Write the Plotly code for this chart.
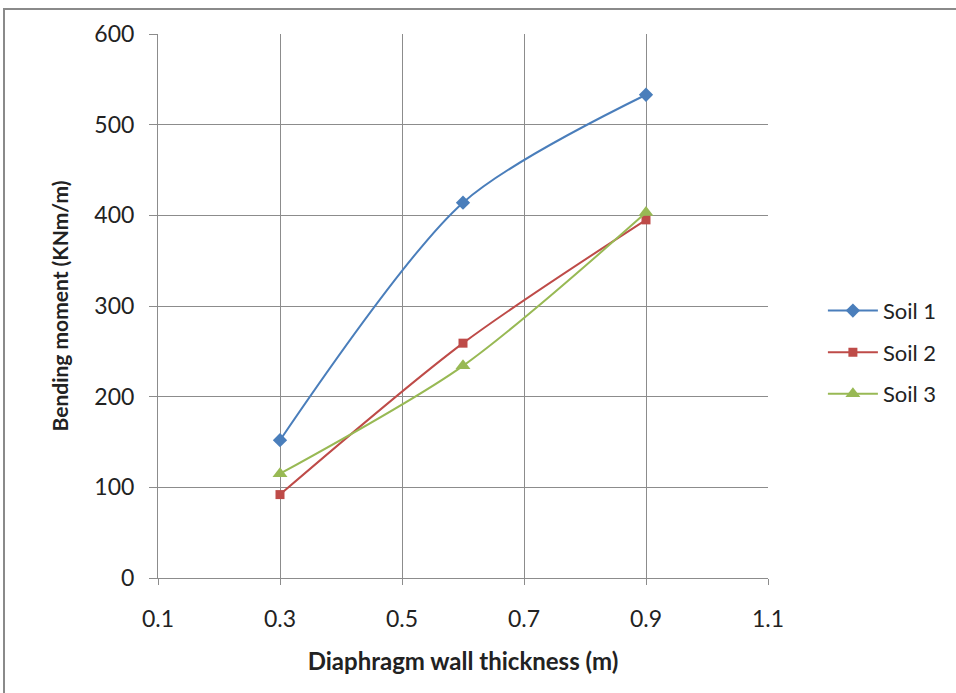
import plotly.graph_objects as go

thickness = [0.3, 0.6, 0.9]
soil1 = [152, 414, 533]
soil2 = [92, 259, 395]
soil3 = [115, 234, 403]

series = [
    ("Soil 1", soil1, "#4a7ebb", "diamond", 11),
    ("Soil 2", soil2, "#be4b48", "square", 9),
    ("Soil 3", soil3, "#98b954", "triangle-up", 13),
]

fig = go.Figure()
for name, vals, color, sym, size in series:
    fig.add_trace(go.Scatter(
        x=thickness, y=vals, name=name, legendgroup=name, mode="lines+markers",
        line=dict(color=color, width=2, shape="spline", smoothing=0.8),
        marker=dict(symbol=sym, size=size, color=color),
    ))

font_family = "Lato, Open Sans, sans-serif"
grid = "#8c8c8c"

fig.update_layout(
    width=956, height=693,
    margin=dict(l=158, r=188, t=34, b=115),
    paper_bgcolor="white", plot_bgcolor="white",
    font=dict(family=font_family, size=22, color="#222"),
    showlegend=True,
    legend=dict(x=1.09, y=0.415, xanchor="left", yanchor="middle",
                font=dict(size=22), itemwidth=50, tracegroupgap=10,
                bgcolor="rgba(0,0,0,0)"),
    xaxis=dict(range=[0.1, 1.1], tickvals=[0.1, 0.3, 0.5, 0.7, 0.9, 1.1],
               ticktext=["0.1", "0.3", "0.5", "0.7", "0.9", "1.1"],
               showgrid=True, gridcolor=grid, gridwidth=1,
               showline=True, linecolor=grid, linewidth=1,
               ticks="outside", ticklen=6, tickcolor=grid,
               zeroline=False, tickfont=dict(size=23), ticklabelstandoff=14,
               title=dict(text="<b>Diaphragm wall thickness (m)</b>",
                          font=dict(size=24), standoff=22)),
    yaxis=dict(range=[0, 600], tickvals=[0, 100, 200, 300, 400, 500, 600],
               showgrid=True, gridcolor=grid, gridwidth=1,
               showline=True, linecolor=grid, linewidth=1,
               ticks="outside", ticklen=8, tickcolor=grid,
               zeroline=False, tickfont=dict(size=23), ticklabelstandoff=10,
               title=dict(text="<b>Bending moment (KNm/m)</b>",
                          font=dict(size=21), standoff=20)),
    shapes=[dict(type="rect", xref="paper", yref="paper",
                 x0=(4 - 158) / 610, x1=1.5, y0=-0.5, y1=1 + (34 - 9) / 544,
                 line=dict(color="#8a8a8a", width=2), layer="below")],
)

fig.write_html("out.html")
